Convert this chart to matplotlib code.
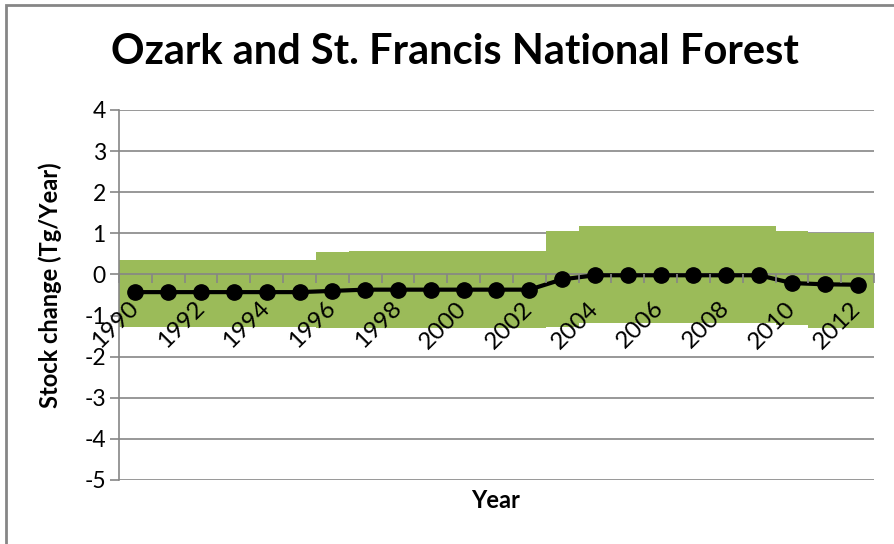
import matplotlib
matplotlib.use('Agg')
import matplotlib.pyplot as plt
import matplotlib.patches as patches
import numpy as np

plt.rcParams['font.family'] = ['Lato', 'DejaVu Sans']
plt.rcParams['axes.unicode_minus'] = False

# stock change estimate and its uncertainty range, Tg/year
years = list(range(1990, 2013))
stock = [-0.43, -0.43, -0.43, -0.43, -0.43, -0.43, -0.40, -0.37, -0.37, -0.37,
         -0.37, -0.37, -0.37, -0.12, -0.02, -0.02, -0.02, -0.02, -0.02, -0.02,
         -0.21, -0.24, -0.25]
upper = [0.34, 0.34, 0.34, 0.34, 0.34, 0.34, 0.54, 0.58, 0.58, 0.58,
         0.58, 0.58, 0.58, 1.05, 1.19, 1.19, 1.19, 1.19, 1.19, 1.19,
         1.05, 1.00, 1.00]
lower = [-1.27, -1.27, -1.27, -1.27, -1.27, -1.27, -1.30, -1.30, -1.30, -1.30,
         -1.30, -1.30, -1.30, -1.29, -1.18, -1.18, -1.18, -1.18, -1.18, -1.18,
         -1.24, -1.30, -1.30]

green = '#9BBB59'
grid_c = '#868686'

fig = plt.figure(figsize=(8.94, 5.44), dpi=100)
ax = fig.add_axes([119/894, 1-480/544, (874-119)/894, (480-110)/544])

x = np.arange(len(years))
lo = np.array(lower)
hi = np.array(upper)
ax.bar(x, hi - lo, bottom=lo, width=1.0, color=green, zorder=1, linewidth=0)
ax.plot(x, stock, color='black', lw=3, marker='o', markersize=11, zorder=4)

ax.set_xlim(-0.5, len(years) - 0.5)
ax.set_ylim(-5, 4)
ax.set_yticks(range(-5, 5))
ax.yaxis.grid(True, color=grid_c, lw=1.2)
ax.set_axisbelow(True)
# category labels and ticks sit on top of the bars
ax.xaxis.set_zorder(5)

for s in ['top', 'right']:
    ax.spines[s].set_visible(False)
ax.spines['left'].set_color(grid_c)
ax.spines['left'].set_linewidth(1.2)
ax.spines['bottom'].set_position(('data', 0))
ax.spines['bottom'].set_color(grid_c)
ax.spines['bottom'].set_linewidth(1.2)
ax.spines['bottom'].set_zorder(3)

ax.tick_params(axis='y', length=6.5, width=1.2, color=grid_c, pad=3,
               labelsize=16.5)
ax.set_xticks(x[::2])
ax.set_xticklabels([str(y) for y in years[::2]])
ax.set_xticks(np.arange(-0.5, len(years) + 0.5, 1), minor=True)
ax.tick_params(axis='x', which='major', length=0, pad=22, labelsize=17.5)
ax.tick_params(axis='x', which='minor', length=6.5, width=1.2, color=grid_c)
for lab in ax.get_xticklabels():
    lab.set_rotation(45)
    lab.set_rotation_mode('anchor')
    lab.set_ha('right')
    lab.set_va('center')

fig.text(455/894, 1-52/544, 'Ozark and St. Francis National Forest',
         ha='center', va='center', fontsize=30, fontweight='bold')
fig.text(50/894, 1-285/544, 'Stock change (Tg/Year)', rotation=90,
         ha='center', va='center', fontsize=17, fontweight='bold')
fig.text(496/894, 1-500/544, 'Year', ha='center', va='center',
         fontsize=17, fontweight='bold')

fig.patches.append(patches.Rectangle((6/894, -0.1), 2, (544-5)/544 + 0.1,
                                     transform=fig.transFigure, fill=False,
                                     edgecolor=grid_c, lw=2))

fig.savefig('out.png', dpi=100)
